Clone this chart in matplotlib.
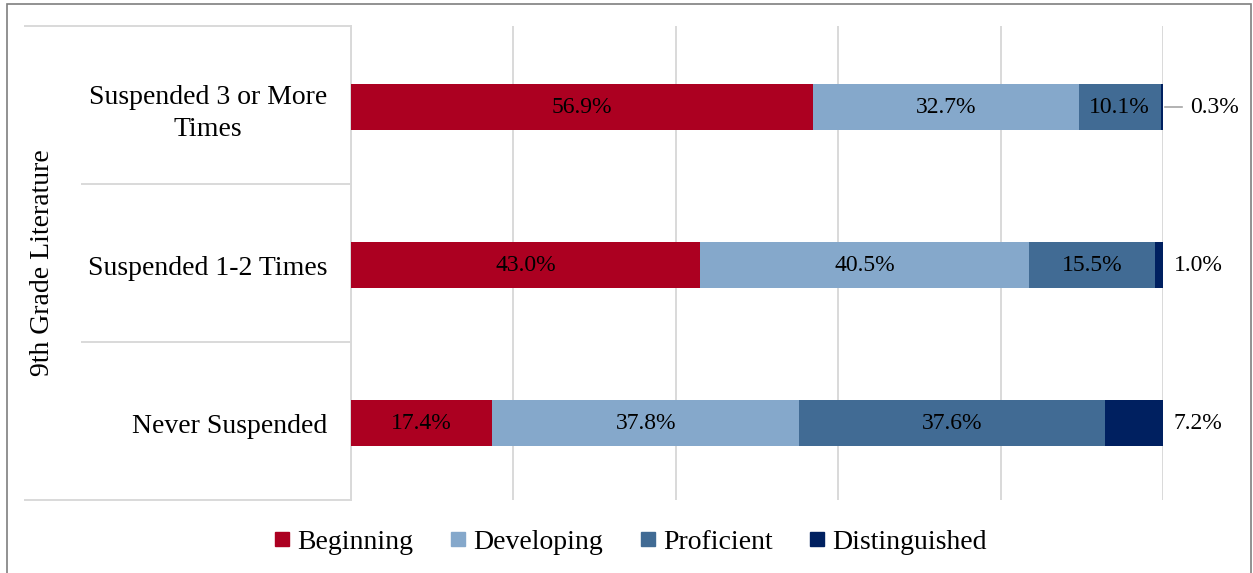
import matplotlib
matplotlib.use("Agg")
import matplotlib.pyplot as plt
from matplotlib.lines import Line2D
from matplotlib.patches import Rectangle

plt.rcParams["font.family"] = ["Liberation Serif", "DejaVu Serif"]

# data (bottom -> top)
categories = ["Never Suspended", "Suspended 1-2 Times", "Suspended 3 or More\nTimes"]
levels = ["Beginning", "Developing", "Proficient", "Distinguished"]
beginning = [17.4, 43.0, 56.9]
developing = [37.8, 40.5, 32.7]
proficient = [37.6, 15.5, 10.1]
distinguished = [7.2, 1.0, 0.3]
series = [beginning, developing, proficient, distinguished]
colors = ["#AC0021", "#85A8CB", "#416B94", "#002060"]
grid_c = "#D9D9D9"

fig = plt.figure(figsize=(12.53, 5.73), dpi=100)
ax = fig.add_axes([351 / 1253, 1 - 500 / 573, 812 / 1253, 474 / 573])

ypos = list(range(len(categories)))
left = [0.0] * len(categories)
for name, vals, col in zip(levels, series, colors):
    ax.barh(ypos, vals, left=left, height=0.29, color=col, label=name, zorder=3)
    for y, v, l in zip(ypos, vals, left):
        if name != "Distinguished":
            ax.text(l + v / 2, y, f"{v:.1f}%", ha="center", va="center",
                    fontsize=17, color="black", zorder=4)
        else:
            end = l + v
            if v < 0.5:
                ax.plot([end + 0.2, end + 2.4], [y, y], color="#A6A6A6", lw=1.2,
                        clip_on=False, zorder=4)
                ax.text(end + 3.3, y, f"{v:.1f}%", ha="left", va="center",
                        fontsize=17, clip_on=False)
            else:
                ax.text(end + 1.3, y, f"{v:.1f}%", ha="left", va="center",
                        fontsize=17, clip_on=False)
    left = [a + b for a, b in zip(left, vals)]

ax.set_xlim(0, 100)
ax.set_ylim(-0.487, 2.513)
ax.set_xticks(range(0, 101, 20))
ax.tick_params(axis="x", length=0, labelbottom=False)
ax.grid(axis="x", color=grid_c, lw=1.4, zorder=0)
ax.set_yticks(ypos)
ax.set_yticklabels(categories, fontsize=20, multialignment="center", linespacing=1.35)
ax.tick_params(axis="y", length=0, pad=17)
for s in ["top", "right", "bottom"]:
    ax.spines[s].set_visible(False)
ax.spines["left"].set_color(grid_c)
ax.spines["left"].set_linewidth(1.4)

# separator lines in the category label area (axes fractions)
for yb, x0 in [(0.0, -0.4015), (1 / 3, -0.3313), (2 / 3, -0.3313), (1.0, -0.4015)]:
    ax.plot([x0, 0], [yb, yb], color=grid_c, lw=1.4, clip_on=False,
            transform=ax.transAxes)

fig.text(43 / 1253, 1 - 263 / 573, "9th Grade Literature", rotation=90,
         ha="center", va="center", fontsize=20)

handles = [Line2D([], [], marker="s", linestyle="", markersize=10.5, color=c)
           for c in colors]
fig.legend(handles, levels, loc="center", bbox_to_anchor=(631 / 1253, 1 - 542 / 573),
           ncol=4, frameon=False, fontsize=20, handlelength=0.5,
           handletextpad=0.3, columnspacing=1.35)

fig.patches.append(Rectangle((7 / 1253, -0.05), 1244 / 1253, 1.05 - 4 / 573,
                             transform=fig.transFigure, fill=False,
                             edgecolor="#7F7F7F", lw=1.2))

fig.savefig("out.png", dpi=100)
